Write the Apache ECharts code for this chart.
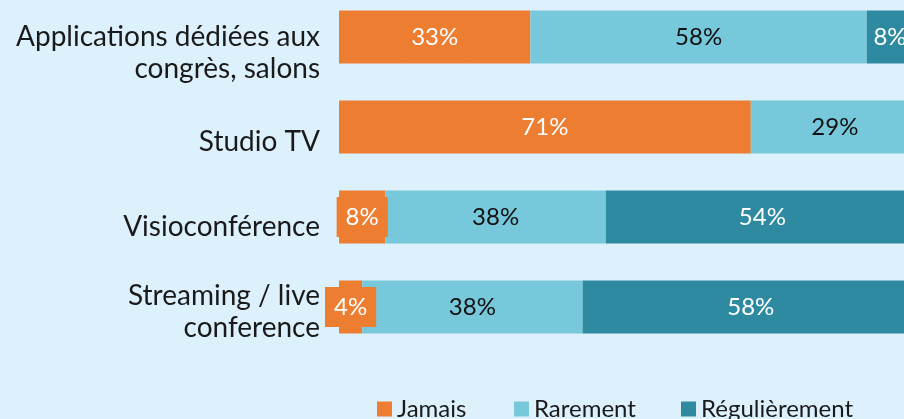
<!DOCTYPE html>
<html>
<head>
<meta charset="utf-8">
<script src="https://cdn.jsdelivr.net/npm/echarts@6/dist/echarts.min.js"></script>
<style>
  html, body { margin: 0; padding: 0; background: #ddf1fd; }
  #chart { width: 904px; height: 419px; }
</style>
</head>
<body>
<div id="chart"></div>
<script>
const categories = [
  "Applications dédiées aux\ncongrès, salons",
  "Studio TV",
  "Visioconférence",
  "Streaming / live\nconference"
];
const seriesNames = ["Jamais", "Rarement", "Régulièrement"];
const jamais = [33, 71, 8, 4];
const rarement = [58, 29, 38, 38];
const regulierement = [8, 0, 54, 58];

const font = "Lato, 'Noto Sans', sans-serif";
const colors = ["#ed7d31", "#78c8dc", "#2e8aa0"];
const legendLeft = [377, 514, 681];
// the category labels sit a little below their bars in the original
const labelDrop = [16, 15, 10, 5];

const rich = { t: { fontSize: 28, lineHeight: 32, color: "#1a1a1a", fontFamily: font, align: "right" } };
labelDrop.forEach((d, i) => {
  rich["s" + i] = { fontSize: 1, lineHeight: d * 2, align: "right" };
});

const pct = (p) => (p.value > 0 ? p.value + "%" : "");

const chart = echarts.init(document.getElementById("chart"), null, { renderer: "canvas" });
chart.setOption({
  backgroundColor: "#ddf1fd",
  animation: false,
  textStyle: { fontFamily: font },
  grid: { left: 339, top: -8, width: 580, height: 360, containLabel: false, outerBoundsMode: "none" },
  xAxis: { type: "value", min: 0, max: 100, show: false },
  yAxis: {
    type: "category",
    data: categories,
    inverse: true,
    axisLine: { show: false },
    axisTick: { show: false },
    axisLabel: {
      margin: 19,
      align: "right",
      formatter: (value, idx) =>
        "{s" + idx + "| }\n" + value.split("\n").map((l) => "{t|" + l + "}").join("\n"),
      rich: rich
    }
  },
  legend: seriesNames.map((name, i) => ({
    left: legendLeft[i],
    top: 397,
    padding: 0,
    itemWidth: 15,
    itemHeight: 15,
    itemGap: 0,
    icon: "rect",
    textStyle: { fontSize: 24, color: "#1a1a1a", fontFamily: font },
    data: [name]
  })),
  series: [
    {
      name: "Jamais",
      type: "bar",
      stack: "total",
      barWidth: 53,
      data: jamais,
      itemStyle: { color: colors[0] },
      label: {
        show: true,
        formatter: pct,
        color: "#ffffff",
        fontSize: 24,
        fontFamily: font,
        backgroundColor: colors[0],
        padding: [8, 9]
      }
    },
    {
      name: "Rarement",
      type: "bar",
      stack: "total",
      barWidth: 53,
      data: rarement,
      itemStyle: { color: colors[1] },
      label: { show: true, formatter: pct, color: "#111111", fontSize: 24, fontFamily: font }
    },
    {
      name: "Régulièrement",
      type: "bar",
      stack: "total",
      barWidth: 53,
      data: regulierement,
      itemStyle: { color: colors[2] },
      label: { show: true, formatter: pct, color: "#ffffff", fontSize: 24, fontFamily: font }
    }
  ]
});
window.addEventListener("resize", () => chart.resize());
</script>
</body>
</html>
